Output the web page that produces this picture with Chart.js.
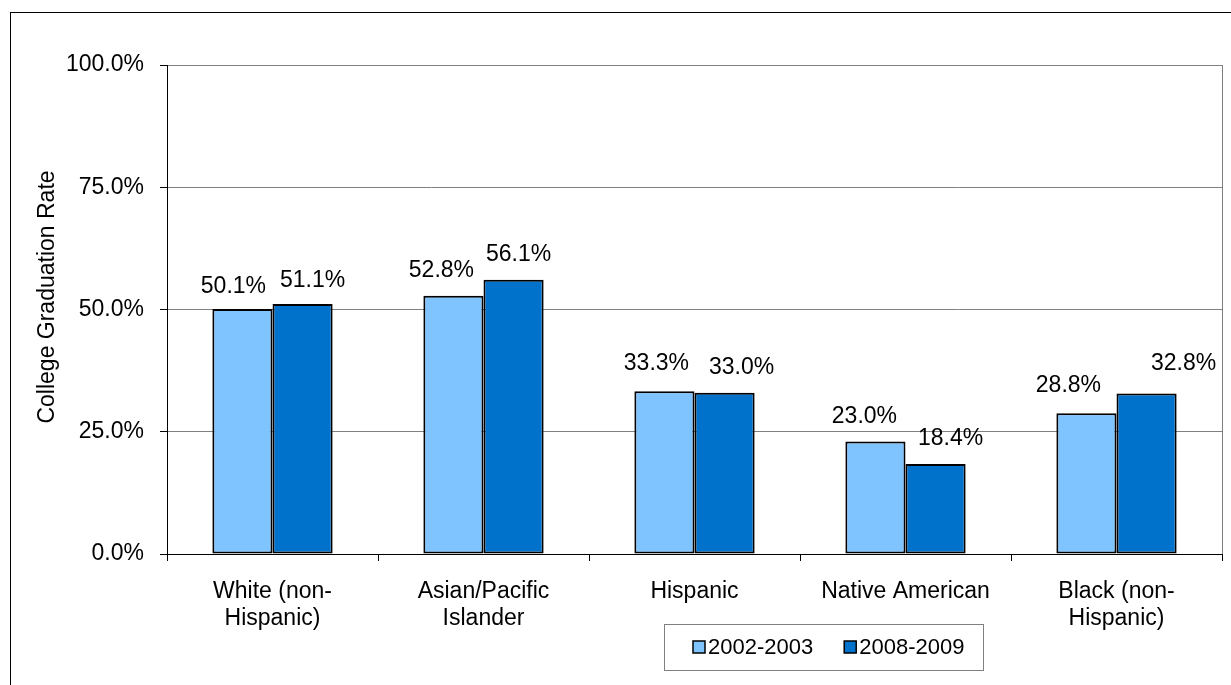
<!DOCTYPE html>
<html>
<head>
<meta charset="utf-8">
<script src="https://cdn.jsdelivr.net/npm/chart.js@4"></script>
<style>
  html, body { margin: 0; padding: 0; background: #fff; overflow: hidden; }
  #frame { position: absolute; left: 10px; top: 12px; width: 1400px; height: 900px; border: 1px solid #000; }
  #wrap { position: absolute; left: 0; top: 0; width: 1231px; height: 685px; }
</style>
</head>
<body>
<div id="frame"></div>
<div id="wrap"><canvas id="chart-grad"></canvas></div>
<script>
var groups = [["White (non-", "Hispanic)"], ["Asian/Pacific", "Islander"], "Hispanic", "Native American", ["Black (non-", "Hispanic)"]];
var rates0203 = [50.1, 52.8, 33.3, 23.0, 28.8];
var rates0809 = [51.1, 56.1, 33.0, 18.4, 32.8];
var seriesNames = ["2002-2003", "2008-2009"];
var barColors = ["#80c4ff", "#0072cc"];
var yTicks = [0, 25, 50, 75, 100];

var fontName = "'Liberation Sans', Arial, sans-serif";

// nudges for value labels (Excel spread them a bit)
var labelNudge = [
  [[-9, 3], [-12, 0], [-8, -3], [-11, 0], [-18, -3]],
  [[10, 2], [5, 0], [17, 0], [15, 0], [37, -5]]
];

var plotFrame = {
  id: "plotFrame",
  beforeDraw(chart) {
    var a = chart.chartArea, ctx = chart.ctx;
    ctx.save();
    ctx.strokeStyle = "#808080";
    ctx.lineWidth = 1;
    ctx.strokeRect(a.left + 0.5, a.top + 0.5, a.right - a.left, a.bottom - a.top);
    ctx.restore();
  }
};

var valueLabels = {
  id: "valueLabels",
  afterDatasetsDraw(chart) {
    var ctx = chart.ctx;
    ctx.save();
    ctx.font = "23px " + fontName;
    ctx.fillStyle = "#000";
    ctx.textAlign = "center";
    ctx.textBaseline = "middle";
    chart.data.datasets.forEach(function (ds, di) {
      chart.getDatasetMeta(di).data.forEach(function (bar, i) {
        var n = labelNudge[di][i];
        ctx.fillText(ds.data[i].toFixed(1) + "%", bar.x + n[0], bar.y - 25 + n[1]);
      });
    });
    ctx.restore();
  }
};

var yTitle = {
  id: "yTitle",
  afterDraw(chart) {
    var ctx = chart.ctx;
    ctx.save();
    ctx.translate(48, 297);
    ctx.rotate(-Math.PI / 2);
    ctx.font = "23px " + fontName;
    ctx.fillStyle = "#000";
    ctx.textAlign = "center";
    ctx.textBaseline = "middle";
    ctx.fillText("College Graduation Rate", 0, 0);
    ctx.restore();
  }
};

var boxLegend = {
  id: "boxLegend",
  afterDraw(chart) {
    var ctx = chart.ctx;
    ctx.save();
    ctx.strokeStyle = "#808080";
    ctx.lineWidth = 1;
    ctx.strokeRect(664.5, 624.5, 319, 46);
    ctx.font = "22px " + fontName;
    ctx.textBaseline = "middle";
    var x = 693;
    chart.data.datasets.forEach(function (ds) {
      ctx.fillStyle = ds.backgroundColor;
      ctx.fillRect(x, 641, 12, 12);
      ctx.strokeStyle = "#000";
      ctx.lineWidth = 1.5;
      ctx.strokeRect(x, 641, 12, 12);
      ctx.fillStyle = "#000";
      ctx.textAlign = "left";
      ctx.fillText(ds.label, x + 15, 648);
      x += ctx.measureText(ds.label).width + 15 + 31;
    });
    ctx.restore();
  }
};

new Chart("chart-grad", {
  type: "bar",
  data: {
    labels: groups,
    datasets: [
      { label: seriesNames[0], data: rates0203, backgroundColor: barColors[0], borderColor: "#000", borderWidth: 2, borderSkipped: false },
      { label: seriesNames[1], data: rates0809, backgroundColor: barColors[1], borderColor: "#000", borderWidth: 2, borderSkipped: false }
    ]
  },
  options: {
    responsive: true,
    maintainAspectRatio: false,
    animation: false,
    layout: { padding: { top: 65, right: 9, left: 0, bottom: 0 } },
    datasets: { bar: { categoryPercentage: 0.57, barPercentage: 1 } },
    plugins: {
      legend: { display: false },
      title: { display: false },
      tooltip: { enabled: false }
    },
    scales: {
      y: {
        min: 0,
        max: 100,
        afterFit: function (s) { s.width = 167; },
        afterBuildTicks: function (s) { s.ticks = yTicks.map(function (v) { return { value: v }; }); },
        border: { color: "#000", width: 1 },
        grid: { color: "#808080", tickColor: "#000", tickLength: 7 },
        ticks: {
          padding: 16,
          color: "#000",
          font: { family: fontName, size: 23 },
          callback: function (v) { return v.toFixed(1) + "%"; }
        }
      },
      x: {
        afterFit: function (s) { s.height = 131; },
        border: { color: "#000", width: 1 },
        grid: { drawOnChartArea: false, offset: true, tickColor: "#000", tickLength: 7 },
        ticks: {
          padding: 17,
          color: "#000",
          maxRotation: 0,
          font: { family: fontName, size: 23, lineHeight: 1.17 }
        }
      }
    }
  },
  plugins: [plotFrame, valueLabels, yTitle, boxLegend]
});
</script>
</body>
</html>
